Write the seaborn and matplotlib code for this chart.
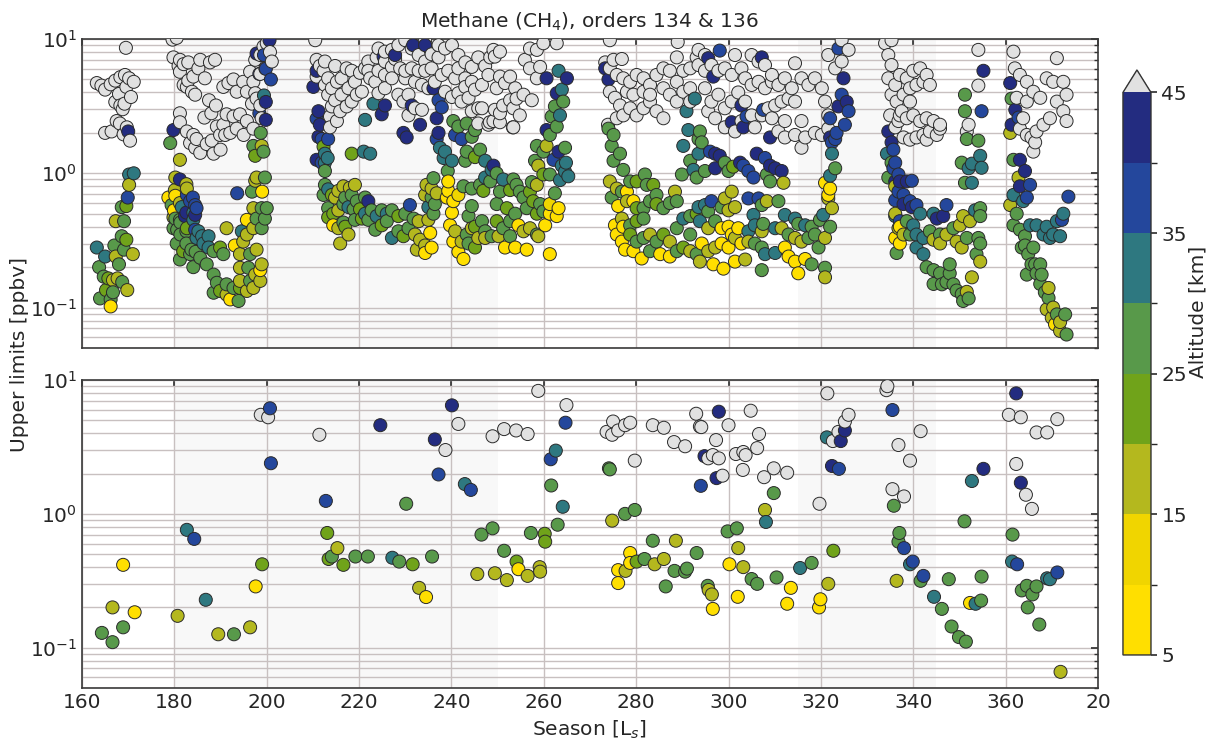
import numpy as np
import pandas as pd
import matplotlib
matplotlib.use("Agg")
import matplotlib.pyplot as plt
from matplotlib.colors import ListedColormap, BoundaryNorm
from matplotlib.cm import ScalarMappable
from matplotlib.ticker import LogLocator, NullFormatter
import seaborn as sns

# Altitude bins [km] and their colours (grey = above 45 km)
alt_bounds = [5, 10, 15, 20, 25, 30, 35, 40, 45]
alt_colors = ["#ffdf00", "#f0d500", "#b4b81e", "#70a31a",
              "#58994a", "#2e7880", "#24479c", "#232c80"]
above_color = "#e1e1e1"

x_ticks = [160, 180, 200, 220, 240, 260, 280, 300, 320, 340, 360, 380]
x_tick_labels = ["160", "180", "200", "220", "240", "260", "280",
                 "300", "320", "340", "360", "20"]
shaded_seasons = [(180, 250), (315, 345)]

# ---- orders 134 & 136 : (Ls, upper limit ppbv, altitude km) ----
top_c1 = [
    (169.5, 8.6, 50), (163.2, 4.7, 50), (164.2, 4.5, 50), (165.0, 4.2, 50), (166.2, 4.6, 50),
    (167.2, 4.9, 50), (168.3, 5.2, 50), (169.3, 5.4, 50), (170.2, 5.1, 50), (171.2, 4.8, 50),
    (169.6, 4.4, 50), (168.0, 3.9, 50), (167.2, 3.4, 50), (168.3, 3.2, 50), (169.2, 3.3, 50),
    (170.6, 3.7, 50), (168.8, 3.0, 50), (165.0, 2.0, 50), (166.4, 2.05, 50), (167.5, 2.45, 50),
    (168.2, 2.35, 50), (169.7, 2.2, 50), (169.0, 1.95, 50), (170.4, 1.75, 50), (170.0, 2.05, 42),
    (170.2, 0.98, 32), (171.2, 1.0, 32), (170.2, 0.82, 17), (169.9, 0.66, 37), (168.6, 0.56, 27),
    (169.6, 0.57, 22), (167.3, 0.44, 17), (169.1, 0.44, 27), (168.6, 0.34, 27), (169.6, 0.32, 22),
    (167.0, 0.29, 27), (169.1, 0.27, 27), (171.0, 0.25, 17), (167.3, 0.24, 17), (168.0, 0.21, 27),
    (163.2, 0.28, 32), (165.0, 0.24, 32), (163.7, 0.20, 27), (164.7, 0.17, 27), (165.7, 0.165, 22),
    (166.7, 0.16, 17), (167.7, 0.165, 17), (168.7, 0.155, 27), (169.8, 0.135, 17), (166.7, 0.13, 27),
    (165.2, 0.135, 22), (163.9, 0.117, 27), (166.2, 0.115, 27), (166.2, 0.102, 8),
]

top_c2 = [
    (179.6, 9.9, 50), (180.5, 10.2, 50), (179.8, 7.3, 50), (181.2, 7.0, 50), (180.9, 6.3, 50),
    (182.0, 6.5, 50), (183.0, 6.7, 50), (181.2, 5.7, 50), (182.0, 4.55, 50), (183.0, 4.9, 50),
    (184.1, 5.25, 50), (185.2, 6.05, 50), (185.6, 7.0, 50), (187.7, 6.7, 50), (188.8, 7.0, 50),
    (183.8, 4.05, 50), (184.5, 3.85, 50), (182.7, 4.4, 50), (186.6, 5.1, 50), (181.2, 2.8, 50),
    (181.2, 2.4, 50), (182.7, 2.05, 50), (184.1, 1.93, 50), (184.8, 1.8, 50), (183.4, 1.68, 50),
    (184.5, 1.55, 50), (185.6, 1.42, 50), (187.0, 1.65, 50), (188.1, 1.75, 50), (189.2, 2.23, 50),
    (189.9, 1.93, 50), (190.6, 2.3, 50), (191.0, 1.93, 50), (192.1, 2.0, 50), (193.5, 2.15, 50),
    (195.0, 1.93, 50), (195.7, 2.45, 50), (197.1, 2.15, 50), (191.3, 2.75, 50), (192.8, 2.65, 50),
    (194.2, 2.75, 50), (190.6, 4.4, 50), (191.7, 4.7, 50), (192.8, 5.0, 50), (193.5, 4.05, 50),
    (194.9, 4.8, 50), (195.7, 4.05, 50), (196.4, 5.7, 50), (197.1, 4.8, 50), (197.5, 7.0, 50),
    (198.6, 7.6, 50), (199.3, 8.8, 50), (200.0, 9.3, 50), (200.7, 8.0, 50), (201.1, 6.8, 50),
    (199.7, 6.05, 50), (198.6, 5.5, 50), (197.5, 3.95, 50), (196.8, 3.3, 50), (198.6, 3.2, 50),
    (197.8, 3.6, 50), (198.9, 2.57, 50), (187.5, 3.5, 50), (189.0, 3.2, 50), (188.0, 2.8, 50),
    (186.5, 2.6, 50), (188.5, 1.4, 50), (190.0, 1.5, 50),
    (197.8, 7.8, 42), (199.4, 7.6, 37), (199.8, 6.0, 37), (198.4, 5.5, 42), (200.9, 5.0, 37),
    (199.4, 3.8, 32), (199.8, 3.4, 42), (198.4, 2.8, 37), (199.8, 2.5, 42), (198.7, 2.0, 27),
    (200.6, 9.8, 42),
    (179.8, 2.1, 42), (179.1, 1.68, 27), (181.2, 1.26, 17), (181.2, 0.9, 42), (180.2, 0.93, 17),
    (182.6, 0.83, 17), (180.2, 0.68, 8), (179.9, 0.53, 8), (181.2, 0.6, 17), (180.2, 0.46, 27),
    (181.3, 0.43, 27), (182.7, 0.69, 37), (184.0, 0.66, 37), (183.4, 0.62, 37), (184.5, 0.58, 37),
    (182.6, 0.51, 42), (184.1, 0.51, 32), (181.6, 0.56, 32), (180.6, 0.38, 27), (181.3, 0.35, 27),
    (182.6, 0.37, 27), (184.5, 0.38, 37), (185.2, 0.37, 32), (182.6, 0.30, 27), (183.7, 0.27, 27),
    (184.6, 0.26, 27), (186.0, 0.34, 32), (187.4, 0.34, 32), (184.8, 0.55, 37), (182.3, 0.48, 42),
    (184.5, 0.49, 42), (184.1, 0.45, 32), (179.8, 0.47, 17), (178.7, 0.66, 8), (180.1, 0.75, 17),
    (182.7, 0.77, 17), (179.4, 0.58, 27), (181.2, 0.45, 27), (179.8, 0.39, 27), (182.7, 0.39, 22),
    (180.5, 0.30, 27), (181.9, 0.263, 22), (183.4, 0.25, 27), (181.2, 0.228, 27), (184.1, 0.20, 27),
    (184.8, 0.33, 32), (186.3, 0.30, 32), (187.4, 0.28, 32), (188.5, 0.263, 27), (189.9, 0.28, 22),
    (190.6, 0.25, 27), (185.6, 0.235, 27), (187.0, 0.21, 27), (188.5, 0.176, 27), (189.2, 0.153, 27),
    (188.5, 0.129, 27), (189.9, 0.133, 22), (191.3, 0.125, 17), (192.1, 0.115, 8), (193.9, 0.112, 27),
    (192.8, 0.14, 27), (194.2, 0.14, 22), (195.7, 0.133, 17), (197.1, 0.14, 17), (198.6, 0.158, 17),
    (196.4, 0.158, 27), (194.2, 0.158, 17), (191.3, 0.149, 27), (198.9, 0.21, 17), (198.6, 0.19, 8),
    (197.5, 0.176, 17), (196.0, 0.198, 27), (194.2, 0.198, 17), (193.1, 0.29, 8), (194.9, 0.31, 17),
    (194.2, 0.25, 17), (196.4, 0.25, 27), (197.8, 0.27, 17), (195.7, 0.35, 17), (194.6, 0.37, 32),
    (197.1, 0.39, 17), (195.7, 0.45, 8), (197.8, 0.46, 27), (198.9, 0.55, 27), (197.1, 0.55, 17),
    (191.3, 0.39, 17), (193.6, 0.71, 37), (196.8, 0.73, 27), (197.5, 0.88, 17), (199.0, 0.73, 8),
    (197.8, 0.93, 17), (199.6, 0.93, 27), (200.0, 0.55, 27), (199.6, 0.46, 27), (198.9, 0.39, 27),
    (197.1, 1.6, 27), (198.9, 1.6, 17), (199.3, 1.45, 27), (197.5, 1.35, 22),
]

top_c3 = [
    (210.5, 9.8, 50), (210.8, 7.0, 50), (211.5, 6.3, 50), (212.3, 5.8, 50), (210.8, 5.25, 50),
    (213.3, 5.1, 50), (212.6, 4.55, 50), (214.1, 4.3, 50), (215.2, 4.8, 50), (213.3, 3.85, 50),
    (214.8, 3.5, 50), (216.2, 3.85, 50), (214.1, 3.15, 50), (215.9, 2.9, 50), (213.7, 2.65, 50),
    (215.2, 2.45, 50), (213.7, 2.2, 50), (217.3, 3.15, 50), (218.4, 3.42, 50), (219.5, 3.85, 50),
    (220.6, 4.05, 50), (219.1, 4.8, 50), (220.2, 5.6, 50), (221.3, 6.05, 50), (222.4, 5.1, 50),
    (223.5, 4.8, 50), (224.2, 5.8, 50), (225.6, 5.4, 50), (227.1, 6.2, 50), (227.8, 7.1, 50),
    (228.9, 6.05, 50), (230.0, 5.1, 50), (230.7, 3.85, 50), (228.5, 3.85, 50), (229.6, 3.42, 50),
    (230.7, 2.7, 50), (232.1, 3.05, 50), (233.6, 2.97, 50), (227.1, 8.3, 50), (228.5, 9.0, 50),
    (231.4, 8.5, 50), (232.9, 7.6, 50), (234.3, 6.8, 50), (235.7, 6.05, 50), (237.2, 7.3, 50),
    (238.6, 8.5, 50), (240.1, 9.0, 50), (241.5, 7.6, 50), (243.0, 6.7, 50), (244.4, 6.2, 50),
    (245.8, 7.3, 50), (247.3, 6.3, 50), (248.0, 5.4, 50), (246.6, 4.55, 50), (245.1, 4.2, 50),
    (243.7, 3.65, 50), (242.2, 3.42, 50), (244.4, 2.9, 50), (246.6, 3.05, 50), (248.0, 2.3, 50),
    (245.8, 2.35, 50), (235.0, 4.3, 50), (233.6, 4.55, 50), (232.1, 4.8, 50), (236.4, 4.8, 50),
    (237.9, 5.4, 50), (239.3, 5.8, 50), (240.8, 5.1, 50), (241.5, 6.05, 50), (243.0, 5.1, 50),
    (238.6, 4.05, 50), (240.1, 3.7, 50), (241.5, 3.95, 50), (243.0, 4.4, 50), (244.4, 4.8, 50),
    (217.7, 4.3, 50), (216.2, 5.1, 50), (217.3, 6.05, 50), (222.0, 6.8, 50), (223.8, 7.3, 50),
    (225.6, 6.8, 50), (230.0, 5.8, 50), (231.4, 6.05, 50), (232.9, 5.8, 50), (234.3, 5.8, 50),
    (235.7, 7.7, 50), (237.2, 9.0, 50), (234.3, 9.8, 50), (230.0, 9.8, 50), (225.6, 8.05, 50),
    (224.2, 8.5, 50), (222.0, 5.8, 50), (218.4, 5.8, 50), (214.8, 6.3, 50), (212.6, 6.8, 50),
    (227.1, 5.1, 50), (225.6, 4.3, 50), (224.2, 3.95, 50), (245.8, 3.05, 50), (248.3, 2.4, 50),
    (210.1, 4.4, 42), (210.8, 5.8, 42), (211.2, 2.9, 42), (210.8, 2.55, 37), (211.5, 2.3, 42),
    (211.2, 1.87, 42), (211.9, 1.8, 37), (210.8, 1.26, 42), (211.9, 1.2, 37), (212.6, 1.2, 32),
    (212.6, 1.04, 27), (212.3, 1.58, 22), (213.3, 1.8, 37), (212.6, 1.4, 32), (213.2, 1.3, 32),
    (223.1, 3.3, 32), (225.6, 3.2, 42), (224.9, 2.75, 42), (221.3, 2.5, 32), (221.0, 1.45, 32),
    (222.4, 1.4, 32), (218.4, 1.4, 22), (229.6, 2.0, 42), (230.3, 1.85, 42), (233.2, 2.3, 42),
    (231.4, 3.2, 42), (225.3, 7.4, 42), (227.8, 7.6, 42), (231.7, 9.0, 42), (234.3, 9.0, 42),
    (236.1, 4.3, 42), (237.2, 3.5, 37), (237.9, 3.1, 37), (236.8, 2.57, 42), (237.2, 2.0, 42),
    (236.8, 1.8, 37), (237.5, 1.55, 32), (238.3, 1.3, 32), (238.6, 1.45, 32), (240.1, 1.24, 32),
    (240.8, 1.93, 37), (242.2, 1.8, 37), (240.4, 2.45, 27), (241.5, 2.23, 27), (243.3, 2.35, 27),
    (245.1, 2.1, 27), (244.4, 1.87, 27), (246.2, 1.5, 27), (243.3, 1.45, 27), (245.1, 1.32, 22),
    (243.0, 1.24, 27), (247.3, 1.24, 32), (248.7, 1.06, 32), (247.3, 0.93, 32), (246.2, 0.82, 27),
    (246.9, 0.74, 22), (244.4, 0.77, 27), (242.6, 0.8, 27), (244.4, 0.57, 27), (243.7, 0.48, 27),
    (245.1, 0.40, 22), (247.3, 0.37, 27), (248.7, 0.34, 27), (245.8, 0.33, 17),
    (212.6, 0.82, 27), (213.3, 0.76, 32), (212.3, 0.69, 27), (214.1, 0.69, 22), (216.6, 0.80, 17),
    (218.0, 0.78, 17), (219.1, 0.82, 17), (215.5, 0.74, 17), (214.8, 0.66, 17), (217.0, 0.66, 27),
    (218.4, 0.69, 27), (219.5, 0.62, 27), (221.3, 0.66, 27), (222.0, 0.62, 42), (213.3, 0.55, 27),
    (214.4, 0.50, 22), (215.5, 0.53, 17), (216.6, 0.59, 27), (217.7, 0.56, 32), (218.8, 0.54, 27),
    (220.2, 0.54, 22), (221.3, 0.50, 32), (222.7, 0.53, 27), (223.8, 0.48, 32), (224.9, 0.53, 27),
    (226.0, 0.50, 32), (227.1, 0.53, 27), (228.5, 0.48, 22), (230.0, 0.50, 27), (231.0, 0.58, 37),
    (231.8, 0.46, 27), (232.9, 0.44, 17), (213.3, 0.47, 22), (214.4, 0.41, 8), (215.5, 0.39, 17),
    (216.6, 0.43, 27), (217.7, 0.35, 17), (215.9, 0.30, 17), (217.0, 0.40, 22), (219.1, 0.45, 27),
    (220.6, 0.46, 22), (222.0, 0.45, 27), (223.5, 0.38, 27), (224.9, 0.41, 22), (226.0, 0.44, 27),
    (227.1, 0.33, 32), (228.5, 0.37, 27), (229.6, 0.34, 22), (230.7, 0.39, 27), (232.1, 0.35, 17),
    (233.2, 0.32, 17), (234.3, 0.29, 17), (232.5, 0.27, 17), (234.3, 0.255, 8), (235.7, 0.28, 8),
    (235.4, 0.36, 8), (235.0, 0.45, 17), (236.1, 0.50, 27), (236.4, 0.59, 27), (235.0, 0.56, 32),
    (235.7, 0.66, 27), (234.3, 0.69, 17), (235.7, 0.77, 17), (234.6, 0.82, 17), (236.1, 0.92, 27),
    (236.8, 0.71, 17), (239.3, 0.74, 8), (240.4, 0.62, 8), (241.5, 0.69, 12), (240.1, 0.51, 8),
    (239.7, 0.41, 8), (240.8, 0.37, 17), (240.4, 0.31, 8), (241.5, 0.26, 8), (242.6, 0.23, 8),
    (242.2, 0.31, 17), (243.7, 0.30, 27), (245.1, 0.28, 22), (243.3, 0.35, 27), (244.4, 0.39, 17),
    (247.3, 0.33, 17), (246.6, 0.44, 27), (239.3, 0.87, 8), (239.2, 1.04, 27), (239.0, 0.66, 8),
]

top_c4 = [
    (249.1, 8.3, 50), (250.5, 8.05, 50), (248.4, 7.3, 50), (249.4, 7.4, 50), (257.0, 8.5, 50),
    (258.5, 8.3, 50), (259.9, 9.3, 50), (262.8, 9.3, 50), (255.9, 7.0, 50), (257.0, 6.05, 50),
    (259.2, 6.2, 50), (258.5, 5.1, 50), (250.5, 5.25, 50), (252.7, 5.25, 50), (251.6, 4.7, 50),
    (249.8, 4.3, 50), (253.8, 4.3, 50), (255.6, 3.85, 50), (257.4, 3.5, 50), (254.1, 3.6, 50),
    (252.7, 3.5, 50), (251.2, 3.2, 50), (249.4, 2.97, 50), (253.4, 3.05, 50), (254.8, 2.7, 50),
    (253.4, 2.2, 50), (250.5, 2.4, 50), (249.1, 2.45, 50), (250.5, 2.8, 50), (253.3, 2.2, 50),
    (249.1, 1.14, 42), (249.8, 1.0, 27), (248.4, 0.87, 27), (251.2, 0.90, 32), (253.4, 0.90, 27),
    (250.5, 0.73, 27), (252.7, 0.75, 22), (254.8, 0.73, 27), (254.1, 0.82, 27), (255.6, 0.66, 27),
    (257.0, 0.73, 22), (257.4, 0.86, 27), (258.5, 0.82, 17), (256.3, 0.55, 27), (257.7, 0.62, 22),
    (259.2, 0.59, 27), (259.9, 0.52, 27), (258.5, 0.50, 22), (249.8, 0.59, 27), (252.0, 0.55, 22),
    (253.8, 0.50, 27), (249.8, 0.44, 22), (251.2, 0.39, 27), (252.7, 0.44, 27), (254.5, 0.41, 8),
    (255.6, 0.37, 17), (257.0, 0.39, 17), (258.5, 0.35, 27), (252.7, 0.34, 27), (250.2, 0.34, 17),
    (251.6, 0.28, 8), (253.8, 0.28, 8), (256.3, 0.27, 8), (261.3, 0.25, 8), (258.8, 0.34, 17),
    (260.3, 0.41, 8), (261.3, 0.50, 8), (263.2, 0.55, 8), (262.8, 0.48, 8), (261.3, 0.59, 12),
    (262.4, 0.71, 27), (263.5, 0.89, 32), (264.6, 1.03, 32), (263.9, 1.14, 32), (263.2, 1.45, 42),
    (264.6, 1.55, 27), (262.1, 1.26, 37), (260.6, 1.60, 17), (259.9, 1.45, 27), (258.5, 1.60, 27),
    (258.1, 1.24, 27), (261.3, 0.98, 27), (259.9, 0.98, 22), (258.8, 1.14, 17), (260.6, 2.1, 42),
    (262.8, 2.23, 27), (261.7, 2.65, 27), (263.5, 2.7, 32), (262.4, 3.15, 27), (264.2, 3.42, 27),
    (262.8, 3.95, 42), (263.9, 4.2, 32), (265.0, 5.1, 42), (260.6, 5.1, 42), (263.2, 5.8, 32),
    (261.3, 1.93, 27), (264.8, 1.2, 32), (265.3, 0.95, 32),
]

top_c5 = [
    (273.3, 6.7, 50), (275.1, 7.0, 50), (276.9, 7.1, 50), (274.3, 6.05, 50), (275.8, 5.4, 50),
    (277.2, 5.1, 50), (278.7, 4.8, 50), (280.1, 5.4, 50), (281.6, 5.1, 50), (283.0, 4.55, 50),
    (284.4, 5.4, 50), (285.9, 6.05, 50), (287.3, 5.8, 50), (288.8, 7.3, 50), (290.2, 5.8, 50),
    (291.7, 6.05, 50), (293.1, 7.3, 50), (274.3, 4.05, 50), (275.4, 3.65, 50), (276.5, 3.2, 50),
    (277.2, 2.7, 50), (278.7, 3.05, 50), (280.1, 2.7, 50), (281.6, 3.05, 50), (283.0, 3.42, 50),
    (284.4, 2.9, 50), (285.9, 2.57, 50), (281.6, 4.05, 50), (283.0, 3.85, 50), (279.4, 3.85, 50),
    (278.0, 4.05, 50), (287.3, 3.85, 50), (288.8, 3.42, 50), (290.2, 4.05, 50), (291.7, 4.3, 50),
    (288.8, 4.8, 50), (285.9, 4.3, 50), (291.7, 3.42, 50), (275.8, 2.57, 50), (273.9, 2.3, 50),
    (274.3, 9.8, 50), (289.0, 9.5, 50),
    (293.5, 8.3, 50), (294.9, 7.6, 50), (293.5, 6.4, 50), (294.9, 5.8, 50), (296.3, 6.4, 50),
    (297.8, 5.8, 50), (299.2, 6.05, 50), (300.7, 5.4, 50), (301.4, 7.6, 50), (302.8, 6.05, 50),
    (305.0, 7.6, 50), (306.5, 6.8, 50), (307.9, 6.4, 50), (303.6, 5.1, 50), (305.0, 4.55, 50),
    (306.5, 4.8, 50), (307.9, 4.3, 50), (309.4, 4.8, 50), (310.8, 4.55, 50), (312.2, 5.1, 50),
    (313.7, 4.3, 50), (314.4, 6.6, 50), (315.8, 5.1, 50), (317.3, 4.55, 50), (318.7, 5.1, 50),
    (320.2, 4.3, 50), (314.4, 3.42, 50), (313.0, 3.6, 50), (311.5, 3.42, 50), (312.2, 2.45, 50),
    (314.4, 1.93, 50), (316.6, 1.85, 50), (315.8, 2.45, 50), (318.7, 2.0, 50), (320.2, 1.93, 50),
    (321.6, 2.15, 50), (321.6, 2.7, 50), (320.9, 3.42, 50), (323.1, 6.05, 50), (324.5, 6.8, 50),
    (326.0, 8.3, 50), (324.5, 9.8, 50), (321.6, 7.6, 50), (294.9, 4.3, 50), (296.3, 3.42, 50),
    (297.8, 3.85, 50), (299.2, 3.05, 50), (300.7, 3.42, 50), (302.1, 4.0, 50), (303.6, 3.42, 50),
    (305.0, 2.7, 50), (307.2, 2.7, 50), (308.6, 3.05, 50), (310.1, 3.2, 50), (295.6, 2.9, 50),
    (297.1, 2.57, 50), (299.2, 2.2, 50), (301.4, 2.05, 50), (302.8, 2.45, 50), (305.7, 2.2, 50),
    (309.4, 2.57, 50), (310.8, 2.05, 50), (312.2, 1.85, 50), (315.8, 1.55, 50), (309.4, 5.4, 50),
    (273.3, 6.05, 42), (274.0, 5.0, 42), (290.9, 2.9, 32), (291.3, 2.1, 32), (290.2, 1.6, 32),
    (292.4, 1.06, 32), (293.5, 1.4, 32), (293.1, 0.93, 27), (289.9, 0.98, 27), (291.7, 1.24, 27),
    (274.0, 2.15, 27), (275.1, 1.93, 27), (274.7, 1.6, 27), (275.1, 1.24, 27), (276.5, 1.4, 27),
    (277.2, 1.06, 27), (274.3, 0.87, 17), (275.8, 0.77, 17), (276.9, 0.73, 27), (278.0, 0.73, 8),
    (278.7, 0.87, 27), (280.1, 0.87, 22), (281.9, 0.98, 27), (282.3, 0.82, 27), (283.7, 0.82, 22),
    (284.4, 0.69, 27), (274.7, 0.66, 27), (276.1, 0.57, 8), (278.0, 0.62, 17), (279.4, 0.62, 8),
    (280.1, 0.55, 22), (281.6, 0.55, 27), (283.0, 0.62, 27), (284.4, 0.59, 22), (285.9, 0.55, 27),
    (287.3, 0.60, 27), (288.4, 0.73, 17), (288.8, 0.62, 27), (290.2, 0.46, 32), (291.7, 0.48, 27),
    (293.1, 0.50, 22), (275.4, 0.41, 8), (276.9, 0.46, 17), (277.2, 0.40, 8), (278.7, 0.41, 27),
    (280.1, 0.44, 22), (281.6, 0.46, 27), (275.8, 0.35, 8), (276.9, 0.31, 8), (277.6, 0.27, 8),
    (279.4, 0.263, 8), (281.2, 0.232, 8), (283.0, 0.263, 27), (285.2, 0.25, 8), (287.3, 0.24, 8),
    (288.8, 0.263, 27), (290.2, 0.28, 22), (291.7, 0.263, 17), (293.1, 0.25, 27), (281.6, 0.33, 27),
    (283.0, 0.35, 17), (284.4, 0.31, 27), (285.9, 0.35, 22), (287.3, 0.31, 17), (288.8, 0.39, 27),
    (291.7, 0.35, 27), (278.7, 0.35, 22), (280.1, 0.31, 27),
    (295.6, 7.2, 42), (298.1, 8.2, 37), (307.2, 7.3, 42), (296.7, 5.25, 42), (302.8, 3.2, 42),
    (303.9, 2.65, 37), (307.5, 2.97, 37), (300.7, 2.4, 42), (303.2, 2.2, 42), (309.0, 1.85, 42),
    (323.8, 8.5, 37), (324.9, 5.1, 42), (324.5, 3.85, 37), (325.6, 3.4, 42), (326.0, 2.9, 37),
    (323.8, 3.15, 42), (322.0, 2.57, 37), (325.2, 2.3, 37), (323.4, 2.0, 37), (322.4, 1.7, 37),
    (322.0, 1.85, 42), (323.1, 1.8, 37), (322.4, 1.4, 32),
    (296.0, 1.45, 37), (297.1, 1.4, 42), (298.1, 1.35, 42), (297.1, 1.09, 42), (294.9, 1.04, 27),
    (299.2, 1.2, 27), (300.0, 1.04, 27), (301.0, 1.12, 22), (302.5, 1.2, 42), (303.2, 1.14, 37),
    (304.3, 1.04, 37), (305.4, 0.93, 37), (306.1, 1.4, 42), (307.9, 1.3, 37), (309.0, 1.14, 42),
    (308.3, 0.98, 27), (309.0, 0.87, 27), (311.5, 1.04, 42), (311.9, 0.85, 17), (310.1, 1.09, 42),
    (293.8, 2.05, 27), (293.5, 1.8, 27), (294.2, 1.7, 27), (292.7, 3.6, 32),
    (294.9, 0.58, 32), (296.3, 0.62, 37), (295.6, 0.52, 27), (293.5, 0.56, 32), (298.5, 0.56, 27),
    (300.0, 0.53, 17), (301.4, 0.56, 17), (299.2, 0.65, 17), (300.7, 0.73, 17), (304.3, 0.65, 37),
    (306.5, 0.65, 37), (307.2, 0.58, 27), (308.3, 0.62, 17), (310.8, 0.62, 27), (312.2, 0.49, 32),
    (293.8, 0.44, 32), (295.6, 0.39, 17), (297.1, 0.44, 27), (298.5, 0.39, 8), (300.0, 0.40, 8),
    (302.1, 0.39, 8), (300.7, 0.35, 8), (305.4, 0.49, 32), (307.5, 0.42, 27), (305.7, 0.41, 32),
    (304.3, 0.37, 32), (307.2, 0.37, 17), (310.1, 0.39, 32), (311.5, 0.39, 17), (314.4, 0.46, 32),
    (315.1, 0.42, 27), (316.6, 0.41, 32), (318.0, 0.40, 27), (319.8, 0.45, 27), (320.5, 0.49, 32),
    (313.0, 0.35, 27), (314.4, 0.33, 17), (315.8, 0.31, 17), (317.3, 0.33, 27), (318.7, 0.35, 27),
    (320.9, 0.33, 17), (322.0, 0.40, 27), (322.4, 0.55, 17), (321.6, 0.65, 17), (322.0, 0.77, 8),
    (320.9, 0.85, 8), (322.0, 0.96, 32), (323.1, 1.09, 27), (321.6, 0.69, 8), (294.2, 0.30, 8),
    (295.6, 0.263, 17), (297.1, 0.28, 17), (298.5, 0.30, 8), (300.0, 0.28, 8), (301.4, 0.33, 17),
    (302.8, 0.30, 8), (304.3, 0.31, 17), (305.7, 0.30, 27), (307.2, 0.28, 27), (307.9, 0.25, 32),
    (310.1, 0.255, 32), (312.2, 0.28, 8), (313.0, 0.24, 8), (314.4, 0.22, 8), (316.6, 0.23, 8),
    (318.0, 0.21, 27), (320.9, 0.198, 27), (320.9, 0.168, 17), (315.1, 0.18, 8), (307.2, 0.19, 27),
    (296.7, 0.21, 8), (298.9, 0.195, 8), (301.4, 0.22, 8), (303.6, 0.228, 17), (319.5, 0.28, 27),
    (293.8, 0.22, 17),
]

top_c6 = [
    (333.9, 9.3, 50), (335.3, 9.8, 50), (334.6, 7.6, 50), (335.3, 6.4, 50), (334.6, 5.1, 50),
    (336.1, 4.55, 50), (335.3, 3.85, 50), (336.4, 3.42, 50), (337.5, 2.9, 50), (335.0, 2.7, 50),
    (336.8, 2.45, 50), (336.1, 2.2, 50), (337.1, 5.4, 50), (338.6, 5.1, 50), (340.0, 5.8, 50),
    (341.5, 6.05, 50), (342.9, 5.4, 50), (339.3, 4.3, 50), (340.7, 4.55, 50), (342.2, 4.8, 50),
    (343.6, 4.55, 50), (337.9, 3.85, 50), (339.3, 3.42, 50), (337.1, 2.7, 50), (338.6, 2.57, 50),
    (340.0, 2.7, 50), (341.5, 2.45, 50), (342.9, 2.57, 50), (344.4, 2.45, 50), (345.8, 2.15, 50),
    (345.1, 1.93, 50), (343.6, 2.05, 50), (342.2, 1.93, 50), (340.7, 1.85, 50), (339.3, 1.78, 50),
    (337.9, 1.85, 50), (345.8, 2.3, 50), (342.9, 1.78, 50), (352.0, 2.3, 50), (351.6, 2.05, 50),
    (354.1, 4.5, 50), (354.1, 8.3, 50),
    (334.6, 2.05, 42), (335.3, 1.7, 42), (334.3, 1.4, 32), (335.7, 1.5, 37), (336.1, 1.2, 37),
    (335.7, 1.09, 37), (336.8, 0.98, 37), (336.1, 0.87, 42), (336.8, 0.73, 37), (336.1, 0.63, 37),
    (336.1, 0.48, 32), (337.1, 0.44, 37), (334.6, 0.93, 27), (336.1, 0.80, 17), (336.1, 0.50, 17),
    (336.8, 0.39, 17), (336.1, 0.33, 8), (337.1, 0.30, 8), (336.4, 0.255, 27), (335.3, 1.2, 27),
    (337.1, 0.87, 42), (338.6, 0.87, 42), (339.7, 0.88, 37), (337.9, 0.69, 37), (339.3, 0.62, 37),
    (340.7, 0.58, 37), (337.9, 0.59, 42), (339.7, 0.56, 42), (347.2, 0.58, 37), (344.4, 0.50, 32),
    (345.1, 0.46, 42), (346.5, 0.48, 42),
    (341.5, 0.50, 32), (338.6, 0.44, 27), (340.0, 0.41, 32), (337.1, 0.40, 8), (337.9, 0.35, 17),
    (339.3, 0.35, 27), (340.7, 0.35, 32), (342.2, 0.33, 32), (343.6, 0.37, 27), (344.4, 0.32, 17),
    (345.8, 0.35, 27), (345.8, 0.30, 17), (347.2, 0.35, 17), (348.7, 0.39, 27), (350.1, 0.41, 17),
    (350.8, 0.48, 17), (352.3, 0.44, 17), (349.4, 0.31, 17), (350.5, 0.28, 17), (351.6, 0.33, 27),
    (354.5, 0.55, 27), (354.5, 0.48, 27), (353.4, 0.53, 32), (354.1, 0.33, 27), (354.5, 0.30, 27),
    (353.7, 0.25, 27), (354.5, 0.22, 17), (352.7, 0.168, 17), (340.7, 0.28, 32), (342.2, 0.25, 32),
    (342.9, 0.20, 27), (344.4, 0.19, 27), (345.8, 0.18, 27), (347.2, 0.155, 27), (348.7, 0.149, 27),
    (347.9, 0.18, 27), (349.4, 0.134, 27), (350.5, 0.126, 27), (351.6, 0.131, 17), (350.8, 0.112, 27),
    (344.4, 0.15, 27), (346.2, 0.149, 27), (352.0, 0.117, 27), (347.9, 0.21, 27),
    (351.2, 3.85, 27), (351.2, 2.9, 27), (355.2, 5.8, 42), (354.8, 2.9, 37), (351.6, 1.8, 27),
    (354.1, 1.75, 27), (354.5, 1.35, 32), (350.5, 1.2, 27), (352.7, 1.18, 32), (352.0, 1.09, 32),
    (354.8, 1.1, 32), (351.2, 0.85, 27), (352.7, 0.85, 32),
]

top_c7 = [
    (361.7, 8.05, 50), (371.1, 7.2, 50), (363.1, 5.4, 50), (364.6, 4.8, 50), (366.0, 4.05, 50),
    (367.5, 3.65, 50), (368.9, 5.1, 50), (370.3, 4.8, 50), (372.5, 4.8, 50), (373.2, 3.85, 50),
    (371.1, 3.42, 50), (372.5, 2.9, 50), (373.2, 2.45, 50), (369.6, 2.57, 50), (368.2, 2.3, 50),
    (366.7, 2.05, 50), (365.6, 1.85, 50), (366.4, 1.7, 50), (364.6, 1.93, 50), (363.1, 2.15, 50),
    (363.8, 2.57, 50), (366.0, 1.45, 50), (362.4, 3.65, 50), (364.6, 3.42, 50), (362.0, 6.05, 50),
    (361.0, 4.7, 42), (362.1, 2.97, 42), (361.3, 2.3, 42), (362.8, 2.6, 37), (363.1, 1.26, 42),
    (364.2, 1.04, 42), (363.1, 0.80, 42), (365.3, 0.82, 37), (364.6, 0.66, 37), (373.6, 0.67, 37),
    (372.2, 0.45, 37),
    (361.3, 3.6, 27), (361.0, 2.0, 17), (361.7, 1.26, 27), (362.8, 0.93, 17), (361.7, 0.69, 32),
    (361.0, 0.58, 17), (362.4, 0.50, 27), (363.8, 0.62, 32), (361.7, 0.41, 27), (363.1, 0.38, 27),
    (364.2, 0.34, 27), (365.3, 0.41, 32), (366.7, 0.41, 32), (368.9, 0.40, 32), (370.3, 0.35, 32),
    (371.8, 0.34, 32), (372.5, 0.50, 32), (371.1, 0.44, 32), (368.2, 0.35, 32), (369.6, 0.33, 32),
    (363.5, 0.28, 27), (364.9, 0.25, 27), (365.6, 0.21, 27), (366.7, 0.18, 27), (367.5, 0.15, 27),
    (368.5, 0.13, 27), (369.3, 0.118, 27), (368.9, 0.097, 17), (370.3, 0.10, 17), (371.1, 0.089, 27),
    (372.9, 0.089, 27), (370.7, 0.075, 8), (371.8, 0.067, 17), (373.2, 0.063, 27), (371.8, 0.078, 17),
    (370.0, 0.084, 17), (366.4, 0.21, 27), (364.6, 0.176, 27), (367.5, 0.21, 27), (367.8, 0.176, 27),
    (369.3, 0.14, 17), (366.0, 0.28, 27), (364.2, 0.29, 27),
]

# ---- second order set : (Ls, upper limit ppbv, altitude km) ----
bottom_a = [
    (164.3, 0.129, 27), (166.6, 0.110, 27), (166.6, 0.20, 17), (168.9, 0.142, 27), (168.9, 0.416, 8),
    (171.4, 0.184, 8), (180.7, 0.173, 17), (182.7, 0.76, 32), (184.3, 0.65, 37), (186.8, 0.228, 32),
    (189.5, 0.126, 17), (192.9, 0.126, 27), (196.4, 0.142, 17), (197.6, 0.287, 8), (199.0, 0.42, 22),
    (198.7, 5.5, 50), (200.3, 5.27, 50), (200.7, 6.15, 37), (200.9, 2.39, 37), (211.4, 3.9, 50),
    (212.8, 1.25, 37), (213.1, 0.72, 22), (215.3, 0.555, 17), (213.4, 0.46, 22), (214.1, 0.48, 27),
    (216.6, 0.416, 22), (219.2, 0.48, 27), (221.9, 0.48, 27), (224.6, 4.6, 42), (227.2, 0.47, 32),
    (228.7, 0.44, 27), (230.2, 1.19, 27), (231.6, 0.42, 22), (233.0, 0.28, 17), (234.5, 0.239, 8),
    (235.8, 0.48, 27), (236.4, 3.6, 42), (237.2, 1.97, 37), (238.7, 3.0, 50), (240.1, 6.47, 42),
    (241.5, 4.7, 50), (242.9, 1.67, 32), (244.2, 1.51, 37), (245.6, 0.355, 17), (246.5, 0.70, 27),
    (248.9, 0.78, 27), (248.9, 3.8, 50), (249.4, 0.36, 17),
]

bottom_b = [
    (251.4, 4.3, 50), (251.4, 0.53, 27), (252.0, 0.32, 17), (254.0, 4.2, 50), (254.1, 0.44, 22),
    (254.5, 0.386, 8), (256.5, 3.95, 50), (256.5, 0.344, 17), (257.2, 0.72, 27), (258.8, 8.3, 50),
    (259.1, 0.40, 17), (259.2, 0.37, 17), (260.2, 0.71, 22), (260.3, 0.62, 22), (261.5, 2.56, 37),
    (261.6, 1.63, 27), (262.6, 2.97, 32), (263.0, 0.83, 27), (264.1, 1.13, 32), (264.7, 4.8, 37),
    (264.9, 6.5, 50), (273.6, 4.1, 50), (274.8, 3.9, 50), (275.0, 4.9, 50), (276.1, 4.2, 50),
    (277.6, 4.6, 50), (278.7, 4.8, 50), (274.1, 2.19, 27), (274.3, 2.15, 27), (274.8, 0.89, 17),
    (276.1, 0.38, 8), (276.1, 0.304, 8), (277.6, 1.0, 27), (277.7, 0.375, 17), (278.7, 0.51, 8),
    (278.7, 0.43, 8), (279.7, 1.07, 27), (279.7, 2.5, 50), (280.1, 0.44, 22), (281.8, 0.46, 27),
    (283.6, 4.6, 50), (283.6, 0.63, 27), (284.0, 0.42, 17), (286.0, 4.4, 50), (286.0, 0.46, 17),
    (286.4, 0.287, 27), (288.2, 3.44, 50), (288.3, 0.375, 27), (288.6, 0.63, 17), (290.6, 3.2, 50),
    (290.6, 0.37, 27), (291.0, 0.39, 27), (293.0, 5.6, 50), (293.1, 0.51, 27), (293.8, 4.5, 50),
    (294.1, 4.45, 50), (294.0, 1.62, 37), (294.8, 2.7, 42), (295.6, 2.6, 50), (295.5, 0.29, 27),
    (295.7, 0.27, 17), (296.4, 0.25, 17), (296.6, 0.195, 8), (296.6, 2.75, 50), (297.3, 3.56, 50),
    (297.4, 1.85, 42), (297.9, 5.8, 42), (297.9, 2.6, 50), (298.7, 1.93, 50), (300.0, 4.6, 50),
    (299.8, 0.74, 27), (300.2, 0.42, 8), (301.6, 2.8, 50), (301.8, 0.78, 27), (302.0, 0.24, 8),
    (302.1, 0.555, 17), (303.1, 2.13, 50), (303.2, 2.9, 50), (303.7, 2.75, 50), (303.2, 0.40, 17),
    (304.8, 5.9, 50), (305.0, 0.326, 27), (306.2, 0.30, 27), (306.2, 3.1, 50), (306.6, 3.95, 50),
    (307.7, 1.88, 50), (307.9, 1.07, 17), (308.1, 0.87, 32), (309.8, 2.19, 50), (309.8, 1.43, 27),
    (310.4, 0.335, 27), (312.7, 2.03, 50), (312.7, 0.213, 8), (313.5, 0.28, 8), (315.5, 0.394, 32),
    (318.0, 0.43, 27), (319.7, 1.19, 50), (319.9, 0.23, 8), (319.6, 0.20, 8),
]

bottom_c = [
    (321.4, 7.95, 50), (321.3, 3.73, 32), (324.3, 3.5, 42), (322.6, 3.5, 50), (322.4, 2.28, 42),
    (323.9, 2.17, 37), (323.8, 4.1, 50), (325.2, 4.2, 42), (325.2, 4.9, 50), (326.0, 5.5, 50),
    (322.7, 0.53, 22), (321.6, 0.30, 17), (334.4, 9.0, 50), (334.2, 8.4, 50), (335.5, 5.97, 37),
    (336.8, 3.27, 50), (339.3, 2.5, 50), (341.6, 4.15, 50), (335.5, 1.53, 50), (338.0, 1.35, 50),
    (335.8, 1.15, 27), (337.0, 0.72, 27), (336.8, 0.62, 27), (338.0, 0.555, 37), (336.4, 0.316, 17),
    (339.9, 0.44, 37), (339.3, 0.42, 32), (342.2, 0.344, 37), (341.6, 0.316, 27), (344.5, 0.24, 32),
    (346.2, 0.195, 27), (347.7, 0.325, 27), (348.3, 0.144, 27), (349.9, 0.12, 27), (351.4, 0.111, 27),
    (351.1, 0.88, 27), (352.7, 1.76, 32), (352.3, 0.216, 8), (353.5, 0.213, 32), (354.7, 0.225, 27),
    (354.8, 0.34, 27), (355.2, 2.17, 42), (361.5, 0.70, 27), (361.4, 0.44, 32), (362.5, 0.42, 37),
    (360.7, 5.5, 50), (362.3, 7.95, 42), (362.3, 2.36, 50), (363.3, 1.71, 42), (363.3, 5.27, 50),
    (364.4, 1.39, 50), (365.7, 1.09, 50), (366.7, 4.06, 50), (369.0, 4.06, 50), (371.2, 5.1, 50),
    (363.5, 0.268, 27), (364.6, 0.29, 27), (365.8, 0.25, 27), (366.7, 0.287, 27), (364.8, 0.20, 27),
    (367.3, 0.149, 27), (369.0, 0.33, 32), (369.6, 0.325, 32), (371.2, 0.365, 37), (371.9, 0.066, 17),
]


def to_frame(*groups):
    rows = [r for g in groups for r in g]
    df = pd.DataFrame(rows, columns=["ls", "ppbv", "alt"])
    # plot roughly in observation order
    return df.sort_values("ls", kind="stable").reset_index(drop=True)


top_df = to_frame(top_c1, top_c2, top_c3, top_c4, top_c5, top_c6, top_c7)
bottom_df = to_frame(bottom_a, bottom_b, bottom_c)

cmap = ListedColormap(alt_colors).with_extremes(over=above_color)
norm = BoundaryNorm(alt_bounds, cmap.N)
all_alts = sorted(set(top_df["alt"]) | set(bottom_df["alt"]))
palette = {a: cmap(norm(a)) for a in all_alts}

sns.set_theme(style="white")
plt.rcParams["font.family"] = ["DejaVu Sans"]
fs = 14.5

fig = plt.figure(figsize=(12.08, 7.42), dpi=100)
ax_top = fig.add_axes([0.0679, 0.531, 0.841, 0.4164])
ax_bot = fig.add_axes([0.0679, 0.0728, 0.841, 0.415])
grid_c = "#c8c0c0"

for ax, df in ((ax_top, top_df), (ax_bot, bottom_df)):
    for lo, hi in shaded_seasons:
        ax.axvspan(lo, hi, color="#f8f8f8", lw=0, zorder=0)
    sns.scatterplot(data=df, x="ls", y="ppbv", hue="alt", palette=palette,
                    s=88, edgecolor="#2a2a2a", linewidth=0.7, legend=False,
                    ax=ax, zorder=3)
    ax.set_yscale("log")
    ax.set_ylim(0.05, 10)
    ax.set_xlim(160, 380)
    ax.set_xticks(x_ticks)
    ax.yaxis.set_minor_locator(LogLocator(base=10, subs=np.arange(2, 10)))
    ax.yaxis.set_minor_formatter(NullFormatter())
    ax.set_axisbelow(True)
    ax.grid(True, which="major", axis="x", color=grid_c, lw=1)
    ax.grid(True, which="both", axis="y", color=grid_c, lw=1)
    ax.tick_params(which="both", direction="in", top=True, right=True,
                   color="#333333", labelsize=fs)
    ax.tick_params(which="major", length=5)
    ax.tick_params(which="minor", length=3)
    for sp in ax.spines.values():
        sp.set_color("#3a3a3a")
        sp.set_linewidth(1.2)
    ax.set_xlabel("")
    ax.set_ylabel("")

ax_top.tick_params(labelbottom=False)
ax_bot.set_xticklabels(x_tick_labels)

fig.text(0.488, 0.971, "Methane (CH$_4$), orders 134 & 136", ha="center", va="center", fontsize=fs)
fig.text(0.488, 0.016, "Season [L$_s$]", ha="center", va="center", fontsize=fs)
fig.text(0.016, 0.522, "Upper limits [ppbv]", ha="center", va="center", rotation=90, fontsize=fs)

cax = fig.add_axes([0.9296, 0.1173, 0.0232, 0.7884])
sm = ScalarMappable(norm=norm, cmap=cmap)
cb = fig.colorbar(sm, cax=cax, extend="max", extendfrac=0.04, ticks=[5, 15, 25, 35, 45])
cb.outline.set_linewidth(1.0)
cb.outline.set_edgecolor("#333333")
cax.tick_params(direction="out", length=4, labelsize=fs, color="#333333")
fig.text(0.9917, 0.58, "Altitude [km]", ha="center", va="center", rotation=90, fontsize=fs)

fig.savefig("out.png", dpi=100)
